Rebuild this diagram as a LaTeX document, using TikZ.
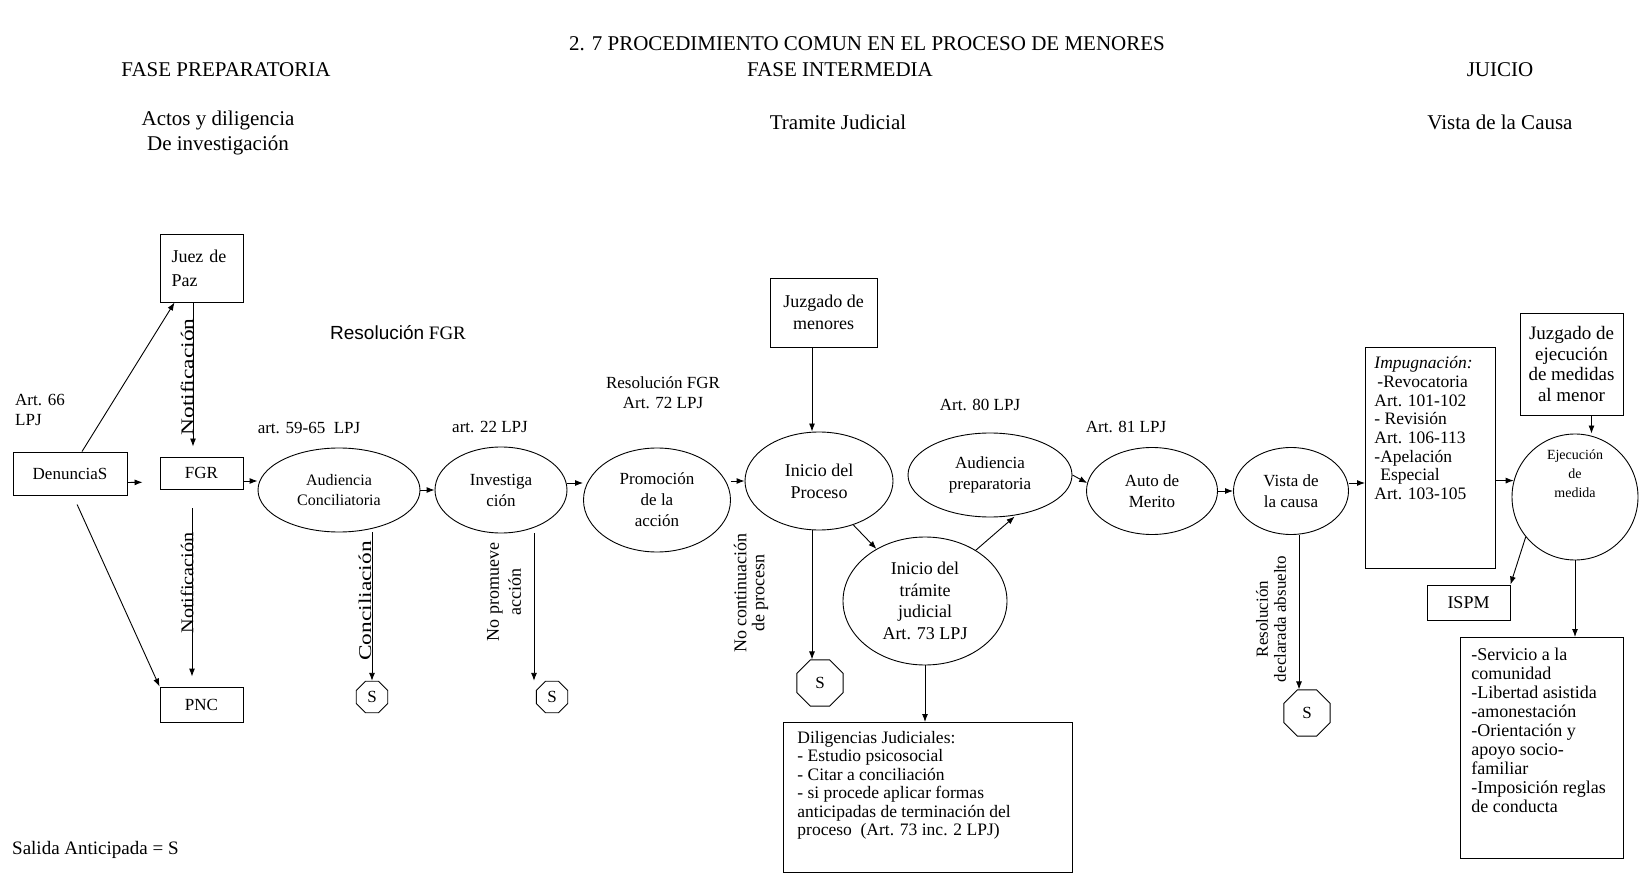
\documentclass[tikz,border=0pt]{standalone}
\usepackage{fontspec}
\setmainfont{Liberation Serif}
\newfontfamily\sansf{Liberation Sans}
\usetikzlibrary{shapes.geometric,arrows.meta,calc}
\begin{document}
\begin{tikzpicture}[x=1pt,y=-1pt,
  txt/.style={inner sep=0pt, font=\fontsize{17}{19}\selectfont},
  head/.style={inner sep=0pt, font=\fontsize{21}{25}\selectfont, align=center},
  boxn/.style={draw, line width=0.9pt, rectangle, inner sep=0pt, align=center, font=\fontsize{17}{19.5}\selectfont},
  elln/.style={draw, line width=0.9pt, ellipse, inner sep=0pt, align=center, font=\fontsize{17}{21}\selectfont},
  octn/.style={draw, line width=0.9pt, regular polygon, regular polygon sides=8, inner sep=0pt, font=\fontsize{17}{19}\selectfont},
  arr/.style={line width=0.9pt, -{Latex[length=8pt,width=6pt]}},
  rot/.style={inner sep=0pt, rotate=90, align=center, font=\fontsize{18}{20}\selectfont}
]
\useasboundingbox (0,0) rectangle (1639,874);

% headers
\node[head] (title) at (867,44) {2. 7 PROCEDIMIENTO COMUN EN EL PROCESO DE MENORES};
\node[head] (fp) at (226,70) {FASE PREPARATORIA};
\node[head] (fi) at (840,70) {FASE INTERMEDIA};
\node[head] (ju) at (1500,70) {JUICIO};
\node[head] (actos) at (218,133) {Actos y diligencia\\De investigación};
\node[head] (tramj) at (838,122) {Tramite Judicial};
\node[head] (vcausa) at (1500,122) {Vista de la Causa};

% boxes
\node[boxn, minimum width=83, minimum height=68, text width=60, align=left, font=\fontsize{18}{24}\selectfont] (juez) at (201.5,268) {Juez de\\Paz};
\node[boxn, minimum width=114, minimum height=43] (den) at (70,473.5) {DenunciaS};
\node[boxn, minimum width=83, minimum height=32] (fgr) at (201.5,473) {FGR};
\node[boxn, minimum width=83, minimum height=35] (pnc) at (201.5,704.5) {PNC};

% ellipses
\node[elln, minimum width=162, minimum height=84, font=\fontsize{16}{20}\selectfont] (aud) at (339,490) {Audiencia\\Conciliatoria};
\node[elln, minimum width=132, minimum height=86] (inv) at (501,490) {Investiga\\ción};
\node[elln, minimum width=147, minimum height=104] (prom) at (657,500) {Promoción\\de la\\acción};
\node[elln, minimum width=148, minimum height=98, font=\fontsize{18}{22}\selectfont] (inicio) at (819,481) {Inicio del\\Proceso};
\node[boxn, minimum width=107, minimum height=69, font=\fontsize{18}{22}\selectfont] (juzmen) at (823.5,312.5) {Juzgado de\\menores};
\node[elln, minimum width=164, minimum height=84] (audprep) at (990,475) {Audiencia\\preparatoria};
\node[elln, minimum width=164, minimum height=128, font=\fontsize{18}{21.5}\selectfont] (tram) at (925,601) {Inicio del\\trámite\\judicial\\Art. 73 LPJ};
\node[elln, minimum width=131, minimum height=87] (auto) at (1152,491) {Auto de\\Merito};
\node[elln, minimum width=115, minimum height=87] (vista) at (1291,491) {Vista de\\la causa};

\node[boxn, anchor=north west, inner xsep=9, inner ysep=9, align=left, font=\fontsize{17.5}{18.7}\selectfont] (impug) at (1365,347)
  {\parbox[t][203pt][t]{112pt}{\raggedright \textit{Impugnación:}\\ \hspace*{3pt}-Revocatoria\\ Art. 101-102\\ - Revisión\\ Art. 106-113\\ -Apelación\\ \hspace*{6pt}Especial\\ Art. 103-105}};
\node[boxn, minimum width=103, minimum height=102, font=\fontsize{19}{20.5}\selectfont] (juzej) at (1571.5,364) {Juzgado de\\ejecución\\de medidas\\al menor};
\node[draw, circle, line width=0.9pt, minimum size=126, inner sep=0pt] (ejec) at (1575,497) {};
\node[txt, align=center, font=\fontsize{14}{19}\selectfont] (eject) at (1575,474) {Ejecución\\de\\medida};
\node[boxn, minimum width=83, minimum height=35, font=\fontsize{18}{20}\selectfont] (ispm) at (1468.5,602.5) {ISPM};
\node[boxn, anchor=north west, inner xsep=11, inner ysep=11, align=left, font=\fontsize{18}{19}\selectfont] (meas) at (1460,637)
  {\parbox[t][199pt][t]{141pt}{\raggedright -Servicio a la\\comunidad\\-Libertad asistida\\-amonestación\\-Orientación y\\apoyo socio-\\familiar\\-Imposición reglas\\de conducta}};
\node[boxn, anchor=north west, inner xsep=14, inner ysep=9, align=left, font=\fontsize{17.5}{18.4}\selectfont] (dilig) at (783,722)
  {\parbox[t][132pt][t]{261pt}{\raggedright Diligencias Judiciales:\\- Estudio psicosocial\\- Citar a conciliación\\- si procede aplicar formas\\anticipadas de terminación del\\proceso\ \ (Art. 73 inc. 2 LPJ)}};

% S octagons
\node[octn, minimum size=34] (s1) at (372,697) {S};
\node[octn, minimum size=34] (s2) at (552,697) {S};
\node[octn, minimum size=50] (s3) at (820,683) {S};
\node[octn, minimum size=50] (s4) at (1307,713) {S};

% labels
\node[txt, anchor=north west, align=left, font=\fontsize{17}{20}\selectfont] (art66) at (15,394) {Art. 66\\LPJ};
\node[txt, anchor=west, font=\fontsize{19}{22}\selectfont] (resfgr) at (330,333) {{\sansf Resolución} FGR};
\node[txt] (a5965) at (309,428) {art. 59-65\ \ LPJ};
\node[txt] (a22) at (490,427) {art. 22 LPJ};
\node[txt, align=center, font=\fontsize{17}{20}\selectfont] (a72) at (663,393) {Resolución FGR\\Art. 72 LPJ};
\node[txt] (a80) at (980,405) {Art. 80 LPJ};
\node[txt] (a81) at (1126,427) {Art. 81 LPJ};
\node[txt, anchor=west, font=\fontsize{19}{22}\selectfont] (salida) at (12,850) {Salida Anticipada = S};

\node[rot] (not1) at (187,377) {\scalebox{1.3}[1]{Notificación}};
\node[rot] (not2) at (187,583) {\scalebox{1.12}[1]{Notificación}};
\node[rot] (conc) at (365,601) {\scalebox{1.3}[1]{Conciliación}};
\node[rot, font=\fontsize{18}{22}\selectfont] (nopro) at (504,592) {No promueve\\acción};
\node[rot, font=\fontsize{18}{18}\selectfont] (nocon) at (751,593) {No continuación\\de procesn};
\node[rot, font=\fontsize{17}{18}\selectfont] (resabs) at (1271,619) {Resolución\\declarada absuelto};

% connectors
\draw[arr] ([xshift=12]den.north) -- ([xshift=15]juez.south west);
\draw[arr, shorten <=10] ([xshift=3]den.south) -- (pnc.north west);
\draw[arr, shorten >=17] ([yshift=-9]den.east) -- ([yshift=-9]fgr.west);
\draw[arr, shorten >=10] ([xshift=-8.5]juez.south) -- ([xshift=-8.5]fgr.north);
\draw[arr, shorten <=19, shorten >=10] ([xshift=-9.5]fgr.south) -- ([xshift=-9.5]pnc.north);
\draw[arr] ([yshift=-8]fgr.east) -- ([yshift=-8]fgr.east -| aud.west);
\draw[arr] (aud.east) -- (inv.west);
\draw[arr] ([xshift=33]aud.south) -- ([xshift=33]aud.south |- s1.north);
\draw[arr] ([xshift=33]inv.south) -- ([xshift=33]inv.south |- s2.north);
\draw[arr] ([yshift=7]inv.east) -- ([yshift=7]inv.east -| prom.west);
\draw[arr] (prom.east |- inicio.west) -- (inicio.west);
\draw[arr] ([xshift=-11.5]juzmen.south) -- ([xshift=-11.5]juzmen.south |- inicio.north);
\draw[arr] ([xshift=-7]inicio.south) -- ([xshift=-7]inicio.south |- s3.north);
\draw[arr] (inicio.-52) -- (tram.133);
\draw[arr, shorten >=2] (tram.45) -- (audprep.-57);
\draw[arr] (audprep.east) -- (auto.173);
\draw[arr] (auto.east) -- (vista.west);
\draw[arr] ([xshift=8]vista.south) -- ([xshift=8]vista.south |- s4.north);
\draw[arr] ([yshift=8]vista.east) -- ([yshift=8]vista.east -| impug.west);
\draw[arr] (impug.east |- ejec.165) -- (ejec.165);
\draw[arr] ([xshift=20]juzej.south) -- ([xshift=20]juzej.south |- ejec.north);
\draw[arr] (ejec.-141) -- (ispm.north east);
\draw[arr] (ejec.south) -- (ejec.south |- meas.north);
\draw[arr] (tram.south) -- (tram.south |- dilig.north);
\end{tikzpicture}
\end{document}
